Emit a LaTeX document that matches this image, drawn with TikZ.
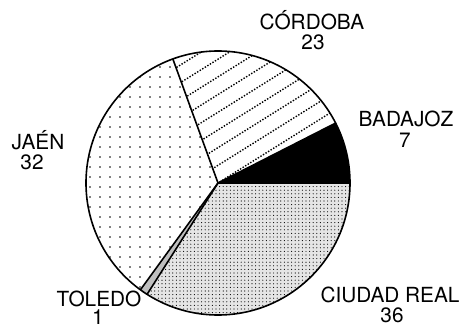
\documentclass[tikz,border=0pt]{standalone}
\usepackage{fontspec}
\setmainfont{TeX Gyre Heros}
\usetikzlibrary{patterns.meta}
\tikzset{
  slice/.style={draw=black,line width=0.8pt,line join=round},
  hatchline/.style={line width=0.7pt,dash pattern=on 0.7pt off 0.8pt},
  lbl/.style={anchor=base,inner sep=0pt,font=\fontsize{10.4}{12}\selectfont},
}
\begin{document}
\begin{tikzpicture}[x=0.5pt,y=0.5pt]
\useasboundingbox (0,0) rectangle (466,327);
\pgfmathsetmacro{\kr}{132}
\pgfmathsetmacro{\kstep}{15}
\coordinate (o) at (218,144);
% BADAJOZ
\fill[black] (o) -- ++(0:\kr) arc[start angle=0,end angle=27,radius=\kr] -- cycle;
% CORDOBA
\begin{scope}
\clip (o) -- ++(27:\kr) arc[start angle=27,end angle=110,radius=\kr] -- cycle;
\foreach \k in {-10,...,10}{\draw[hatchline,shift={(o)},rotate=32](-160,\k*\kstep)--(160,\k*\kstep);}
\end{scope}
% JAEN
\path[pattern={Dots[distance=5pt,radius=0.45pt]}] (o) -- ++(110:\kr) arc[start angle=110,end angle=234,radius=\kr] -- cycle;
% TOLEDO
\fill[black!25] (o) -- ++(234:\kr) arc[start angle=234,end angle=237.5,radius=\kr] -- cycle;
% CIUDAD REAL
\path[preaction={fill=black!10},pattern={Dots[distance=1.8pt,radius=0.28pt]}] (o) -- ++(237.5:\kr) arc[start angle=237.5,end angle=360,radius=\kr] -- cycle;
% outlines
\draw[slice] (o) circle[radius=\kr];
\foreach \ka in {0,27,110,234,237.5}{\draw[slice] (o) -- ++(\ka:\kr);}
% labels
\foreach \kname/\kx/\ky/\ktext in {cordoba/312/297/CÓRDOBA,cordobav/313/277/23,badajoz/406/200/BADAJOZ,badajozv/405/179/7,jaen/38/177/JAÉN,jaenv/32/157/32,toledo/99/21/TOLEDO,toledov/98/3/1,ciudad/390/25/CIUDAD REAL,ciudadv/392/5/36}
  {\node[lbl] (\kname) at (\kx,\ky) {\ktext};}
\end{tikzpicture}
\end{document}
